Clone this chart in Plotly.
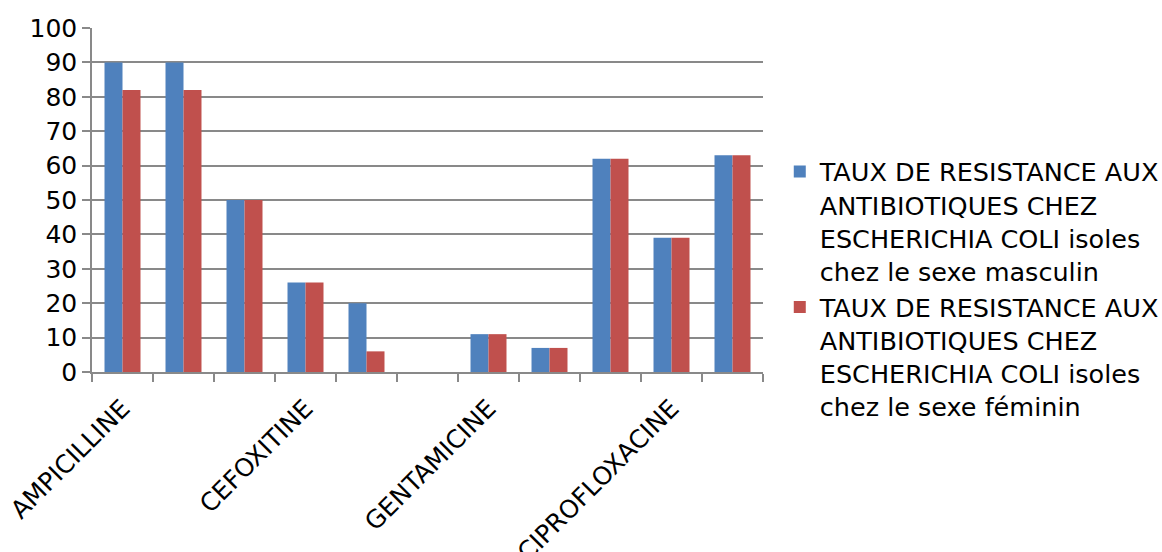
import plotly.graph_objects as go

# Antibiotics on the x axis (only every third one carries a visible label)
positions = list(range(11))
label_positions = [0, 3, 6, 9]
tick_labels = ["AMPICILLINE", "CEFOXITINE", "GENTAMICINE", "CIPROFLOXACINE"]

# Resistance rates (%)
masculin = [90, 90, 50, 26, 20, 0, 11, 7, 62, 39, 63]
feminin = [82, 82, 50, 26, 6, 0, 11, 7, 62, 39, 63]

name_m = ("TAUX DE RESISTANCE AUX<br>ANTIBIOTIQUES CHEZ<br>"
          "ESCHERICHIA COLI isoles<br>chez le sexe masculin")
name_f = ("TAUX DE RESISTANCE AUX<br>ANTIBIOTIQUES CHEZ<br>"
          "ESCHERICHIA COLI isoles<br>chez le sexe féminin")

grid = "#898989"

fig = go.Figure()
fig.add_trace(go.Bar(x=positions, y=masculin, name=name_m,
                     marker=dict(color="#4F81BD", line=dict(width=0))))
fig.add_trace(go.Bar(x=positions, y=feminin, name=name_f,
                     marker=dict(color="#C0504D", line=dict(width=0))))

fig.update_layout(
    width=1162, height=552,
    margin=dict(l=92, r=399, t=28, b=180, autoexpand=False),
    paper_bgcolor="white", plot_bgcolor="white",
    font=dict(family="DejaVu Sans", color="black", size=24),
    barmode="group", bargap=0.41, bargroupgap=0,
    legend=dict(x=1.025, xanchor="left", y=0.24, yanchor="middle",
                font=dict(size=25.5), itemwidth=30, tracegroupgap=18,
                valign="top", bgcolor="rgba(0,0,0,0)"),
    xaxis=dict(
        range=[-0.5, 10.5], automargin=False,
        tickmode="array", tickvals=label_positions, ticktext=tick_labels,
        tickangle=-45, ticks="", showgrid=False, zeroline=False,
        showline=True, linecolor=grid, linewidth=1.5,
        tickfont=dict(size=25), ticklabelstandoff=10,
        minor=dict(tickmode="array",
                   tickvals=[p - 0.5 for p in positions] + [10.5],
                   ticks="outside", ticklen=8, tickcolor=grid, tickwidth=1.5,
                   showgrid=False),
    ),
    yaxis=dict(
        range=[0, 100], dtick=10, tick0=0, automargin=False,
        showgrid=True, gridcolor=grid, gridwidth=1.5,
        ticks="outside", ticklen=8, tickcolor=grid, tickwidth=1.5,
        showline=True, linecolor=grid, linewidth=1.5, zeroline=False,
        tickfont=dict(size=25),
    ),
)

fig.write_html("out.html")
